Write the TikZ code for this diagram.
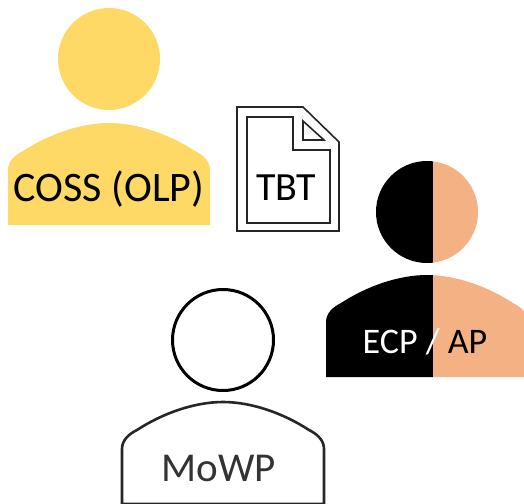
\documentclass[tikz,border=0pt]{standalone}
\usepackage{fontspec}
\setmainfont{Carlito}
\definecolor{cossyellow}{HTML}{FFD966}
\definecolor{apsalmon}{HTML}{F4B183}
\newcommand{\bodypath}{(-101,102) -- (-101,47) .. controls (-101,38) and (-94,32) .. (-86,28)
  .. controls (-60,11) and (-28,0) .. (0,0)
  .. controls (28,0) and (60,11) .. (86,28)
  .. controls (94,32) and (101,38) .. (101,47) -- (101,102) -- cycle}

\begin{document}
\begin{tikzpicture}
  [x=1pt, y=-1pt,
   head/.style={circle, inner sep=0pt, minimum size=102pt},
   label text/.style={inner sep=0pt, font=\fontsize{42}{46}\selectfont},
   doc line/.style={draw=black!85, line width=1.6pt, line join=miter}]

  \useasboundingbox (0,0) rectangle (524,503);
  \clip (0,0) rectangle (524,503);

  % COSS
  \node[head, fill=cossyellow] (cossHead) at (109,59) {};
  \fill[cossyellow, shift={(109,123)}] \bodypath;
  \node[label text] (cossLabel) at (109,189) {COSS (OLP)};

  % document
  \draw[doc line] (237,107) -- (303,107) -- (339,142) -- (339,231) -- (237,231) -- cycle;
  \draw[doc line] (247,117) -- (293,117) -- (293,150) -- (330,150) -- (330,223) -- (247,223) -- cycle;
  \draw[doc line] (303,121) -- (303,140) -- (324,140) -- cycle;
  \node[label text, font=\fontsize{40}{46}\selectfont] (tbtLabel) at (286,188) {TBT};

  % ECP / AP
  \begin{scope}
    \clip (320,150) rectangle (433,390);
    \node[head, fill=black] (ecpHead) at (427,212) {};
    \fill[black, shift={(427,275)}] \bodypath;
  \end{scope}
  \begin{scope}
    \clip (433,150) rectangle (530,390);
    \node[head, fill=apsalmon] (apHead) at (427,212) {};
    \fill[apsalmon, shift={(427,275)}] \bodypath;
  \end{scope}
  \node[label text, font=\fontsize{36}{40}\selectfont] (ecpLabel) at (425,342)
    {\textcolor{white}{ECP / }\textcolor{black}{AP}};

  % MoWP
  \node[head, draw=black, line width=3pt, minimum size=101pt] (mowpHead) at (223,340) {};
  \draw[black!85, line width=2.6pt, shift={(223,402)}] \bodypath;
  \node[label text, text=black!80, font=\fontsize{41}{46}\selectfont] (mowpLabel) at (219,468) {MoWP};
\end{tikzpicture}
\end{document}
